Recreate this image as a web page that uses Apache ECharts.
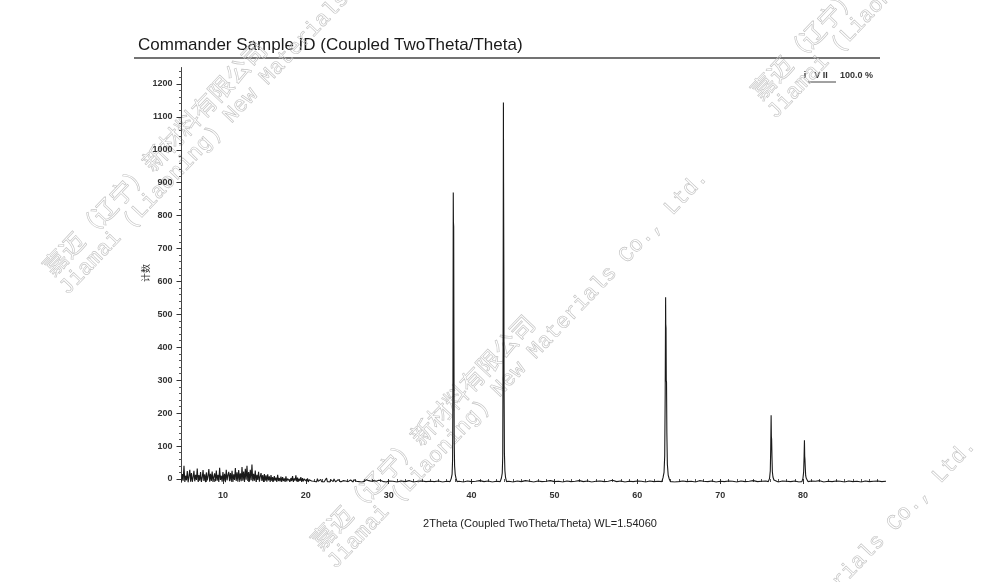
<!DOCTYPE html>
<html><head><meta charset="utf-8">
<script src="https://cdn.jsdelivr.net/npm/echarts@6/dist/echarts.min.js"></script>
<style>html,body{margin:0;padding:0;background:#fff}#c{width:1000px;height:582px}</style>
</head><body><div id="c"></div>
<script>
const titleText = 'Commander Sample ID (Coupled TwoTheta/Theta)';
const xAxisName = '2Theta (Coupled TwoTheta/Theta) WL=1.54060';
const yAxisName = '计数';
const legendMark = 'i';
const legendName = 'V II';
const legendPct = '100.0 %';
const watermarkCN = '嘉迈（辽宁）新材料有限公司';
const watermarkEN = 'Jiamai (Liaoning) New Materials Co., Ltd.';

const xTickLabels = [10, 20, 30, 40, 50, 60, 70, 80];
const yTickLabels = [0, 100, 200, 300, 400, 500, 600, 700, 800, 900, 1000, 1100, 1200];

// background 5.0 – 20.0 deg, step 0.1
const noiseStart = 5.0, noiseStep = 0.1;
const noiseCounts = [
  -8,15,-5,40,-9,10,-4,24,-10,8,28,
  -6,18,-9,5,25,-7,13,-3,32,-8,
  12,-5,21,-9,4,27,-6,14,-10,20,
  -4,9,30,-8,16,-6,23,-9,7,17,
  -7,26,-5,13,-9,34,-3,10,-8,21,
  -6,16,-10,28,-4,12,22,-7,18,-5,
  25,-9,14,-3,33,-6,20,-8,27,-4,
  17,-7,36,-5,23,-9,31,-2,40,-6,
  21,-8,28,-4,44,-7,16,-5,26,-9,
  13,-3,22,-8,8,18,-6,12,-9,15,
  -5,11,-8,14,-4,8,-9,12,-6,6,
  -8,9,-5,4,-9,13,-6,3,-7,7,
  -8,6,-6,2,-9,8,-7,1,-5,4,
  -8,3,-6,9,-9,2,-5,11,-7,4,
  -8,1,-6,6,-9,3,-7,0,-5,2
];
// background 20.1 – 30.0 deg, step 0.1
const midStart = 20.1, midStep = 0.1;
const midCounts = [
  -7,2,-9,-2,-8,4,-6,-9,0,-7,
  -8,-3,-9,1,-7,-4,-9,-1,-8,-5,
  -2,-9,-5,-7,3,-8,-6,-3,-9,-2,
  -7,-5,-8,0,-6,-9,-4,-7,-2,-8,
  -6,-9,-3,-7,-5,-8,1,-6,-9,-4,
  -8,-5,-9,-3,-7,-6,-9,-2,-8,-5,
  -7,-9,-4,-8,-6,-3,-9,-7,-5,-8,
  -6,-9,-2,-7,-8,-5,-9,-4,-7,-6,
  -9,-5,-8,-3,-7,-9,-6,-4,-8,-7,
  -5,-9,-6,-8,-2,-7,-9,-5,-8,-6
];
// background 30.5 – 90.0 deg, step 0.5
const flatStart = 30.5, flatStep = 0.5;
const flatCounts = [
  -7,-9,-6,-8,-5,-9,-7,-6,-8,-7,
  -8,-6,-9,-7,-8,-6,-7,-9,-6,-8,
  -7,-5,-8,-6,-9,-7,-8,-6,-7,-9,
  -6,-8,-5,-7,-9,-6,-8,-7,-5,-8,
  -7,-9,-6,-8,-7,-5,-8,-6,-9,-7,
  -6,-8,-7,-4,-8,-6,-9,-7,-8,-6,
  -7,-9,-6,-8,-7,-8,-6,-7,-9,-8,
  -6,-8,-7,-9,-5,-7,-8,-6,-9,-7,
  -8,-6,-7,-9,-6,-8,-7,-5,-8,-7,
  -6,-8,-7,-9,-6,-7,-8,-6,-9,-7,
  -8,-6,-7,-5,-9,-7,-8,-6,-7,-9,
  -6,-8,-7,-9,-6,-8,-7,-6,-8,-7
];

const peak1Angles = [37.40, 37.55, 37.65, 37.71, 37.75, 37.79, 37.81, 37.84, 37.87, 37.90, 37.95, 38.02, 38.12, 38.25];
const peak1Counts = [-8, 2, 15, 60, 300, 870, 780, 766, 420, 120, 40, 15, 2, -8];
const peak2Angles = [43.45, 43.60, 43.70, 43.76, 43.80, 43.84, 43.86, 43.89, 43.92, 43.96, 44.02, 44.10, 44.22];
const peak2Counts = [-8, 3, 18, 70, 420, 1144, 900, 640, 280, 80, 25, 4, -8];
const peak3Angles = [62.95, 63.10, 63.22, 63.30, 63.36, 63.41, 63.43, 63.46, 63.49, 63.52, 63.56, 63.62, 63.72, 63.85, 64.00];
const peak3Counts = [-8, 4, 20, 70, 260, 552, 470, 458, 300, 293, 140, 45, 12, 0, -8];
const peak4Angles = [75.80, 75.95, 76.04, 76.09, 76.14, 76.17, 76.20, 76.24, 76.29, 76.36, 76.48, 76.60];
const peak4Counts = [-8, 2, 25, 90, 194, 130, 121, 70, 22, 6, -3, -8];
const peak5Angles = [79.85, 79.98, 80.06, 80.12, 80.16, 80.19, 80.22, 80.26, 80.31, 80.38, 80.48, 80.60];
const peak5Counts = [-8, 2, 20, 70, 118, 70, 60, 35, 10, 2, -4, -8];

// ---- build data ----
const pts = [];
noiseCounts.forEach((c, i) => pts.push([+(noiseStart + i * noiseStep).toFixed(3), c]));
midCounts.forEach((c, i) => pts.push([+(midStart + i * midStep).toFixed(3), c]));
flatCounts.forEach((c, i) => pts.push([+(flatStart + i * flatStep).toFixed(3), c]));
const peaks = [[peak1Angles, peak1Counts], [peak2Angles, peak2Counts], [peak3Angles, peak3Counts], [peak4Angles, peak4Counts], [peak5Angles, peak5Counts]];
const inPeak = a => peaks.some(([an]) => a >= an[0] && a <= an[an.length - 1]);
const data = pts.filter(p => !inPeak(p[0]));
peaks.forEach(([an, cn]) => an.forEach((a, i) => data.push([a, cn[i]])));
data.sort((p, q) => p[0] - q[0]);

const yMinorTicks = [];
for (let v = 0; v <= 1240; v += 20) if (v % 100 !== 0) yMinorTicks.push(v);
const xMinorTicks = [];
for (let v = 5; v <= 90; v += 1) if (v % 10 !== 0) xMinorTicks.push(v);

// ---- watermarks ----
const wmRot = 46.4 * Math.PI / 180;
const wmPositions = [[47, 271], [315, 545], [755, 95], [583, 813]];
const wmStyleCN = { fill: 'rgba(255,255,255,0)', stroke: '#c2c2c2', lineWidth: 0.6, fontSize: 24, fontFamily: 'Noto Sans CJK SC', verticalAlign: 'middle', align: 'left' };
const wmStyleEN = { fill: 'rgba(255,255,255,0)', stroke: '#c2c2c2', lineWidth: 0.6, fontSize: 22, fontFamily: 'Liberation Mono', verticalAlign: 'middle', align: 'left' };
const watermarks = wmPositions.map(([x, y]) => ({
  type: 'group', x: x, y: y, rotation: wmRot, z: 100, silent: true,
  children: [
    { type: 'text', x: 0, y: 0, style: Object.assign({ text: watermarkCN }, wmStyleCN) },
    { type: 'text', x: -4, y: 26, style: Object.assign({ text: watermarkEN }, wmStyleEN) }
  ]
}));

const labelFont = { fontSize: 9, fontWeight: 'bold', color: '#333', fontFamily: 'Liberation Sans' };
const chart = echarts.init(document.getElementById('c'), null, { renderer: 'canvas' });
chart.setOption({
  animation: false,
  backgroundColor: '#fff',
  grid: { left: 181.5, right: 114, top: 67.5, bottom: 99.7 },
  xAxis: [
    {
      type: 'value', min: 5, max: 90, position: 'bottom',
      axisLine: { show: false },
      axisTick: { show: true, customValues: xTickLabels, length: 5, lineStyle: { color: '#333', width: 1 } },
      axisLabel: Object.assign({ customValues: xTickLabels, margin: 9, formatter: v => String(v) }, labelFont),
      splitLine: { show: false }
    },
    {
      type: 'value', min: 5, max: 90, position: 'bottom', offset: 0,
      axisLine: { show: false },
      axisTick: { show: true, customValues: xMinorTicks, length: 3, lineStyle: { color: '#555', width: 1 } },
      axisLabel: { show: false },
      splitLine: { show: false }
    }
  ],
  yAxis: [
    {
      type: 'value', min: -10, max: 1250, position: 'left',
      axisLine: { show: true, lineStyle: { color: '#444', width: 1 } },
      axisTick: { show: true, customValues: yTickLabels, length: 5, lineStyle: { color: '#333', width: 1 } },
      axisLabel: Object.assign({ customValues: yTickLabels, margin: 9, formatter: v => String(v) }, labelFont),
      splitLine: { show: false }
    },
    {
      type: 'value', min: -10, max: 1250, position: 'left', offset: 0,
      axisLine: { show: false },
      axisTick: { show: true, customValues: yMinorTicks, length: 2.5, lineStyle: { color: '#555', width: 1 } },
      axisLabel: { show: false },
      splitLine: { show: false }
    }
  ],
  series: [{
    type: 'line', data: data, xAxisIndex: 0, yAxisIndex: 0,
    showSymbol: false, symbol: 'none', sampling: null,
    lineStyle: { color: '#1a1a1a', width: 1.1 }
  }],
  graphic: [
    { type: 'text', x: 138, y: 45, style: { text: titleText, fontSize: 17, fontFamily: 'Liberation Sans', fill: '#1a1a1a', verticalAlign: 'middle' } },
    { type: 'line', shape: { x1: 134, y1: 58, x2: 880, y2: 58 }, style: { stroke: '#444', lineWidth: 1.5 } },
    { type: 'text', x: 540, y: 524, style: { text: xAxisName, fontSize: 11, fontFamily: 'Liberation Sans', fill: '#222', align: 'center', verticalAlign: 'middle' } },
    { type: 'text', x: 146, y: 273, rotation: Math.PI / 2, style: { text: yAxisName, fontSize: 9, fontFamily: 'Noto Sans CJK SC', fill: '#333', align: 'center', verticalAlign: 'middle' } },
    { type: 'text', x: 805, y: 76, style: { text: legendMark, fontSize: 9, fontFamily: 'Liberation Sans', fontWeight: 'bold', fill: '#333', align: 'center', verticalAlign: 'middle' } },
    { type: 'text', x: 821, y: 76, style: { text: legendName, fontSize: 9, fontFamily: 'Liberation Sans', fontWeight: 'bold', fill: '#333', align: 'center', verticalAlign: 'middle' } },
    { type: 'line', shape: { x1: 808, y1: 82, x2: 836, y2: 82 }, style: { stroke: '#444', lineWidth: 1 } },
    { type: 'text', x: 840, y: 76, style: { text: legendPct, fontSize: 9, fontFamily: 'Liberation Sans', fontWeight: 'bold', fill: '#333', align: 'left', verticalAlign: 'middle' } }
  ].concat(watermarks)
});
</script>
</body></html>
